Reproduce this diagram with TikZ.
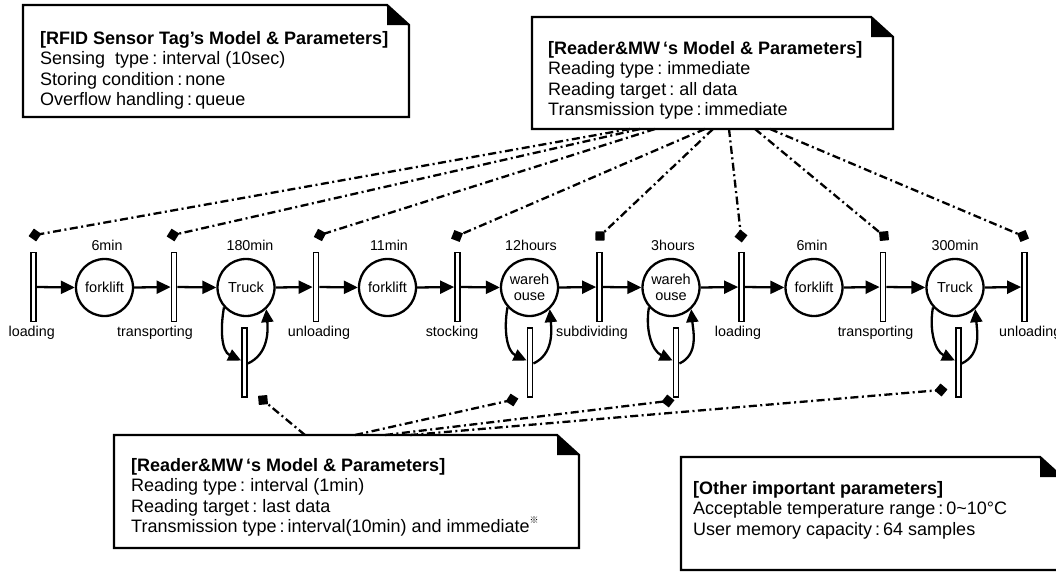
\documentclass[tikz,border=0pt]{standalone}
\usepackage{fontspec}
\setmainfont{Liberation Sans}
\newfontfamily\cjk{Noto Sans CJK JP}
\usetikzlibrary{arrows.meta,calc}
\begin{document}
\begin{tikzpicture}[x=1pt,y=-1pt,
  trans/.style={draw, fill=white, line width=1.8pt, minimum width=5pt, minimum height=69pt, inner sep=0pt},
  place/.style={circle, draw, fill=white, line width=2.3pt, minimum size=57pt, inner sep=0pt, align=center, font=\fontsize{14.5}{16.5}\selectfont},
  lbl/.style={inner sep=0pt, font=\fontsize{14.3}{16}\selectfont},
  arr/.style={line width=2.3pt, -{Triangle[length=14pt,width=13pt]}},
  loopa/.style={line width=2.3pt, -{Triangle[length=13pt,width=12pt]}},
  dd/.style={line width=2.3pt, dash pattern=on 8pt off 3.5pt on 2pt off 3.5pt, -{Diamond[length=13pt,width=13pt]}, shorten >=-6.5pt},
  notebox/.style={inner sep=0pt, outer sep=0pt},
  noteline/.style={line width=2.3pt, line join=miter},
  notetext/.style={align=left, inner sep=0pt, font=\fontsize{18}{20.4}\selectfont}
]
\useasboundingbox (0,0) rectangle (1056,573);

% ---------- note boxes ----------
\node[notebox, minimum width=386pt, minimum height=112pt] (rfidbox) at (216,61) {};
\node[notebox, minimum width=361pt, minimum height=112pt] (topbox) at (712.5,73) {};
\node[notebox, minimum width=465pt, minimum height=113pt] (botbox) at (346.5,491.5) {};
\node[notebox, minimum width=381pt, minimum height=113pt] (othbox) at (871.5,513.5) {};
\foreach \b in {rfidbox,topbox,botbox,othbox}{
  \draw[noteline, fill=white] (\b.north west) -- ([xshift=-22pt]\b.north east) -- ([yshift=-20pt]\b.north east) -- (\b.south east) -- (\b.south west) -- cycle;
  \fill ([xshift=-22pt]\b.north east) -- ([yshift=-20pt]\b.north east) -- ([xshift=-22pt,yshift=-20pt]\b.north east) -- cycle;
}
\node[notetext, anchor=north west] (rfidtxt) at (40,31) {\textbf{[RFID Sensor Tag’s Model \& Parameters]}\\Sensing\ \ type\,:\ interval (10sec)\\Storing condition\,:\,none\\Overflow handling\,:\,queue};
\node[notetext, anchor=north west] (toptxt) at (548,41) {\textbf{[Reader\&MW\,‘s Model \& Parameters]}\\Reading type\,:\ immediate\\Reading target\,:\ all data\\Transmission type\,:\,immediate};
\node[notetext, anchor=north west] (bottxt) at (131,458) {\textbf{[Reader\&MW\,‘s Model \& Parameters]}\\Reading type\,:\ interval (1min)\\Reading target\,:\ last data\\Transmission type\,:\,interval(10min) and immediate\raisebox{0.9ex}{\cjk\fontsize{9}{9}\selectfont ※}};
\node[notetext, anchor=north west] (othtxt) at (693,481) {\textbf{[Other important parameters]}\\Acceptable temperature range\,:\,0\textasciitilde 10°C\\User memory capacity\,:\,64 samples};

% ---------- transitions ----------
\foreach \n/\x in {t1/33.5,t2/174,t3/316,t4/457.5,t5/599.5,t6/741.5,t7/883,t8/1024.5}
  \node[trans] (\n) at (\x,287) {};
% ---------- places ----------
\node[place] (p1) at (104.5,287.5) {forklift};
\node[place] (p2) at (246,287.5) {Truck};
\node[place] (p3) at (387.5,287.5) {forklift};
\node[place] (p4) at (529.5,287.5) {wareh\\ouse};
\node[place] (p5) at (671,287.5) {wareh\\ouse};
\node[place] (p6) at (814,287.5) {forklift};
\node[place] (p7) at (955,287.5) {Truck};
% ---------- lower transitions ----------
\node[trans] (b2) at (244.5,362.5) {};
\node[trans] (b4) at (530,362.5) {};
\node[trans] (b5) at (676,362.5) {};
\node[trans] (b7) at (958.3,362.5) {};

% ---------- labels ----------
\node[lbl] (d1) at (107,245) {6min};
\node[lbl] (d2) at (250,245) {180min};
\node[lbl] (d3) at (389,245) {11min};
\node[lbl] (d4) at (531,245) {12hours};
\node[lbl] (d5) at (673,245) {3hours};
\node[lbl] (d6) at (812,245) {6min};
\node[lbl] (d7) at (955,245) {300min};
\node[lbl] (l1) at (31.7,333) {loading};
\node[lbl] (l2) at (155,333) {transporting};
\node[lbl] (l3) at (319,333) {unloading};
\node[lbl] (l4) at (452,333) {stocking};
\node[lbl] (l5) at (592,333) {subdividing};
\node[lbl] (l6) at (738,333) {loading};
\node[lbl] (l7) at (875.5,333) {transporting};
\node[lbl, anchor=west] (l8) at (999,333) {unloading};

% ---------- main arcs ----------
\foreach \a/\b/\c in {t1/p1/t2, t2/p2/t3, t3/p3/t4, t4/p4/t5, t5/p5/t6, t6/p6/t7, t7/p7/t8}{
  \draw[arr] (\a.east) -- (\b.west);
  \draw[arr] (\b.east) -- (\c.west);
}
% ---------- self loops ----------
\foreach \p/\b in {p2/b2, p4/b4, p5/b5, p7/b7}{
  \draw[loopa] (\p.-138) to[out=-100,in=155] ([yshift=2pt]\b.west);
  \draw[loopa] ([yshift=-1pt]\b.east) to[out=25,in=-85] (\p.-47);
}

% ---------- top reader connectors ----------
\coordinate (m1) at (35,235);
\coordinate (m2) at (173,235);
\coordinate (m3) at (320,235);
\coordinate (m4) at (457,236);
\coordinate (m5) at (600,236);
\coordinate (m6) at (741,236);
\coordinate (m7) at (884,236);
\coordinate (m8) at (1023,236);
\coordinate (s1) at (630,129);
\coordinate (s2) at (640,129);
\coordinate (s3) at (655,129);
\coordinate (s4) at (705,129);
\coordinate (s5) at (713,129);
\coordinate (s6) at (729,129);
\coordinate (s7) at (755,129);
\coordinate (s8) at (770,129);
\foreach \i in {1,...,8} \draw[dd] (s\i) -- (m\i);

% ---------- bottom reader connectors ----------
\coordinate (n2) at (263,400);
\coordinate (n4) at (512,400);
\coordinate (n5) at (668,401);
\coordinate (n7) at (941,390);
\coordinate (u2) at (305,435);
\coordinate (u4) at (355,435);
\coordinate (u5) at (385,435);
\coordinate (u7) at (410,435);
\foreach \i in {2,4,5,7} \draw[dd] (u\i) -- (n\i);
\end{tikzpicture}
\end{document}
